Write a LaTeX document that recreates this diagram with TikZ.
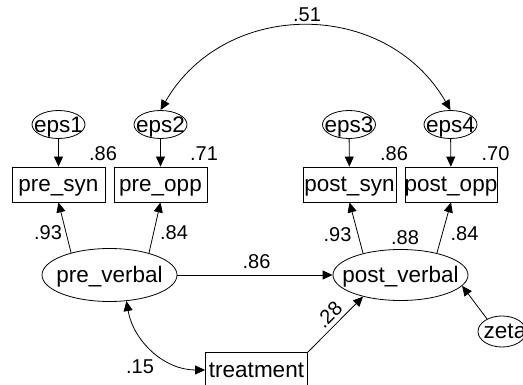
\documentclass[tikz,border=0pt]{standalone}
\usepackage{fontspec}
\setmainfont{Liberation Sans}
\usetikzlibrary{shapes.geometric,arrows.meta}
\begin{document}
\begin{tikzpicture}[x=1pt,y=-1pt,line width=0.8pt,
  txt/.style={inner sep=0pt,text height=19pt,text depth=4pt,font=\fontsize{22.5}{27}\selectfont},
  lbl/.style={inner sep=0pt,font=\fontsize{20}{24}\selectfont},
  lat/.style={draw,ellipse,inner sep=0pt},
  obs/.style={draw,rectangle,inner sep=0pt,minimum width=93pt,minimum height=35pt},
  tip/.tip={Triangle[length=10pt,width=9pt]},
  arr/.style={-tip},
  darr/.style={tip-tip}]
\useasboundingbox (0,0) rectangle (523,385);
% error terms
\foreach \n/\x in {eps1/58.5,eps2/160.5,eps3/349,eps4/450.5}{
  \node[lat,minimum width=53pt,minimum height=28pt,label={[txt,yshift=-1pt]center:\n}] (\n) at (\x,124.5) {};
}
% observed
\node[obs,label={[txt]center:pre\_syn}] (presyn) at (58.5,184.5) {};
\node[obs,label={[txt]center:pre\_opp}] (preopp) at (160.5,184.5) {};
\node[obs,label={[txt]center:post\_syn}] (postsyn) at (349.5,184.5) {};
\node[obs,minimum width=92pt,label={[txt]center:post\_opp}] (postopp) at (451,184.5) {};
\node[obs,minimum width=102pt,label={[txt]center:treatment}] (treat) at (256.5,370) {};
% latent
\node[lat,minimum width=135pt,minimum height=53pt,label={[txt]center:pre\_verbal}] (pre) at (109.5,275) {};
\node[lat,minimum width=135pt,minimum height=51pt,label={[txt]center:post\_verbal}] (post) at (400.5,275) {};
\node[lat,minimum width=48pt,minimum height=31pt,label={[txt,xshift=3pt]center:zeta}] (zeta) at (502,331.5) {};
% arrows
\draw[arr] (eps1) -- (presyn);
\draw[arr] (eps2) -- (preopp);
\draw[arr] (eps3) -- (postsyn);
\draw[arr] (eps4) -- (postopp);
\draw[arr] (pre.150) -- (presyn.south);
\draw[arr] (pre.29) -- (preopp.south);
\draw[arr] (post.150) -- (postsyn.south);
\draw[arr] (post.31) -- (postopp.south);
\draw[arr] (pre.east) -- (post.west);
\draw[arr] (treat.north east) -- (post.210);
\draw[arr] (zeta.140) -- (post.-10);
\draw[darr] (pre.-57) to[out=-80,in=180] (treat.west);
\draw[darr] (eps2.north) to[out=60,in=120,looseness=1.14] (eps4.north);
% labels
\node[lbl] (l51) at (307,15) {.51};
\node[lbl] (l86a) at (103,154) {.86};
\node[lbl] (l71) at (204,154) {.71};
\node[lbl] (l86b) at (394,154) {.86};
\node[lbl] (l70) at (495.5,154) {.70};
\node[lbl] (l93a) at (48,233) {.93};
\node[lbl] (l84a) at (174,233) {.84};
\node[lbl] (l86c) at (256.5,261.5) {.86};
\node[lbl] (l93b) at (337.5,235) {.93};
\node[lbl] (l88) at (405,237.5) {.88};
\node[lbl] (l84b) at (464.5,234) {.84};
\node[lbl,rotate=45] (l28) at (329,315) {.28};
\node[lbl] (l15) at (140,367) {.15};
\end{tikzpicture}
\end{document}
